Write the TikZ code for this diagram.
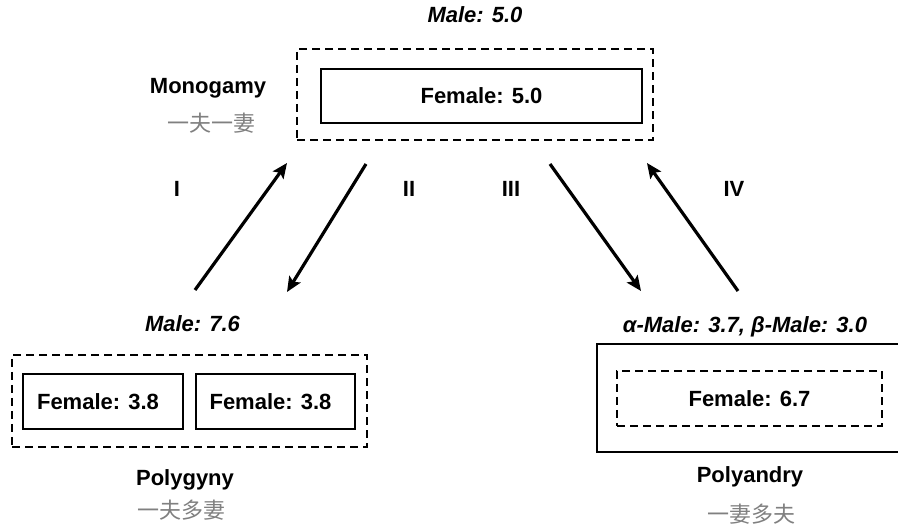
\documentclass[tikz,border=0pt]{standalone}
\usepackage{fontspec}
\setmainfont{Liberation Sans}
\newfontfamily\cjk{Noto Sans CJK SC}
\usetikzlibrary{arrows.meta}
\definecolor{cjkgray}{gray}{0.5}
\begin{document}
\begin{tikzpicture}[x=1pt,y=-1pt,
  every node/.style={inner sep=0pt,outer sep=0pt,font=\fontsize{22}{26}\selectfont\bfseries},
  dashbox/.style={draw,line width=2pt,dash pattern=on 8pt off 5pt},
  solidbox/.style={draw,line width=2pt},
  malelbl/.style={font=\fontsize{22}{26}\selectfont\bfseries\itshape, anchor=base},
  titlelbl/.style={anchor=base},
  cjklbl/.style={font=\fontsize{22}{26}\selectfont\cjk, text=cjkgray},
  flow/.style={line width=3.2pt,-{Stealth[length=15pt,width=13pt,inset=3pt]}}]
\useasboundingbox (0,0) rectangle (898,526);
\clip (0,0) rectangle (898,526);

% Monogamy
\node[dashbox, minimum width=356pt, minimum height=91pt] (mono) at (475,94.5) {};
\node[solidbox, minimum width=321pt, minimum height=54pt] (monof) at (481.5,96) {Female: 5.0};
\node[malelbl] (monom) at (475,23) {Male: 5.0};
\node[titlelbl] (monot) at (208,94) {Monogamy};
\node[cjklbl] (monoc) at (211,123) {一夫一妻};

% Polygyny
\node[dashbox, minimum width=355pt, minimum height=92pt] (pgy) at (189.5,401) {};
\node[solidbox, minimum width=160pt, minimum height=55pt] (pgya) at (103,401.5) {};
\node[solidbox, minimum width=159pt, minimum height=55pt] (pgyb) at (275.5,401.5) {};
\node (pgyat) at (98,401.5) {Female: 3.8};
\node (pgybt) at (270.5,401.5) {Female: 3.8};
\node[malelbl] (pgym) at (192.5,332) {Male: 7.6};
\node[titlelbl] (pgyt) at (185,486) {Polygyny};
\node[cjklbl] (pgyc) at (181,510) {一夫多妻};

% Polyandry
\node[solidbox, minimum width=323pt, minimum height=108pt] (pad) at (758.5,398) {};
\node[dashbox, minimum width=265pt, minimum height=55pt] (padf) at (749.5,398.5) {Female: 6.7};
\node[malelbl] (padm) at (745,333) {α-Male: 3.7, β-Male: 3.0};
\node[titlelbl] (padt) at (750,483) {Polyandry};
\node[cjklbl] (padc) at (751,514) {一妻多夫};

% Arrows
\coordinate (a1s) at (195,290);
\coordinate (a1e) at (287,163);
\coordinate (a2s) at (366,164);
\coordinate (a2e) at (287,292);
\coordinate (a3s) at (550,164);
\coordinate (a3e) at (641,291);
\coordinate (a4s) at (738,291);
\coordinate (a4e) at (647,163);
\draw[flow] (a1s) -- (a1e);
\draw[flow] (a2s) -- (a2e);
\draw[flow] (a3s) -- (a3e);
\draw[flow] (a4s) -- (a4e);

\node (l1) at (177,189) {I};
\node (l2) at (409,189) {II};
\node (l3) at (511,189) {III};
\node (l4) at (734,189) {IV};
\end{tikzpicture}
\end{document}
